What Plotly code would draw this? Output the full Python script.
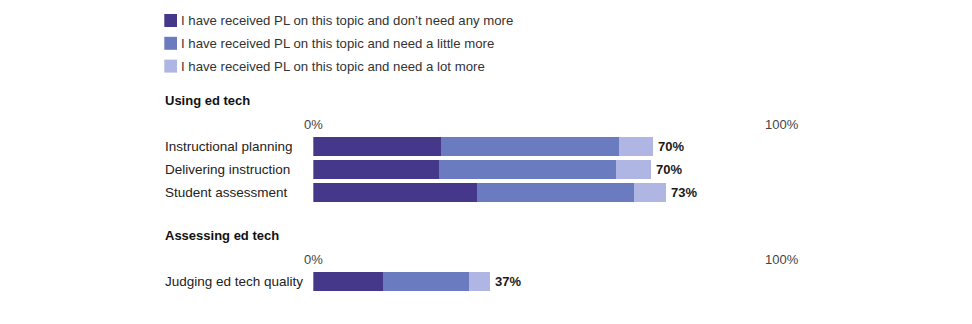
import plotly.graph_objects as go

# ---------------- data ----------------
series_names = [
    "I have received PL on this topic and don’t need any more",
    "I have received PL on this topic and need a little more",
    "I have received PL on this topic and need a lot more",
]
series_colors = ["#45388b", "#6b7bc0", "#b0b6e4"]

section_titles = ["Using ed tech", "Assessing ed tech"]
tick_values = [0, 100]
tick_labels = ["0%", "100%"]

using_cats = ["Instructional planning", "Delivering instruction", "Student assessment"]
using_dont = [26.4, 26.0, 33.8]
using_little = [36.8, 36.5, 32.6]
using_lot = [7.0, 7.4, 6.6]
using_totals = ["70%", "70%", "73%"]

assess_cats = ["Judging ed tech quality"]
assess_dont = [14.4]
assess_little = [17.8]
assess_lot = [4.3]
assess_totals = ["37%"]

# ---------------- layout helpers ----------------
W, H = 972, 324
FONT = "Liberation Sans, Arial, sans-serif"


def py(p):
    """pixel-from-top -> paper y"""
    return 1 - p / H


def px(p):
    return p / W


fig = go.Figure()

groups = [
    ("x", "y", using_cats, [using_dont, using_little, using_lot], using_totals),
    ("x2", "y2", assess_cats, [assess_dont, assess_little, assess_lot], assess_totals),
]

for xa, ya, cats, vals, totals in groups:
    for name, color, v in zip(series_names, series_colors, vals):
        fig.add_trace(go.Bar(
            y=cats, x=v, orientation="h", name=name,
            marker=dict(color=color, line=dict(width=0)),
            xaxis=xa, yaxis=ya, showlegend=False,
            hoverinfo="skip",
        ))
    # totals
    sums = [sum(t) for t in zip(*vals)]
    for c, s, lab in zip(cats, sums, totals):
        fig.add_annotation(x=s, y=c, xref=xa, yref=ya, text="<b>" + lab + "</b>",
                           showarrow=False, xanchor="left", xshift=3,
                           font=dict(family=FONT, size=13, color="#1a1a1a"))
        fig.add_annotation(x=px(165), y=c, xref="paper", yref=ya, text=c,
                           showarrow=False, xanchor="left", xshift=-2,
                           font=dict(family=FONT, size=13.5, color="#222222"))

# tick labels
for xa, ypix in (("x", 125), ("x2", 259.5)):
    for tv, tl in zip(tick_values, tick_labels):
        fig.add_annotation(x=tv, y=py(ypix), xref=xa, yref="paper", text=tl,
                           showarrow=False, xanchor="center" if tv == 0 else "right",
                           xshift=0 if tv == 0 else 4, yanchor="middle",
                           font=dict(family=FONT, size=13, color="#444444"))

# section titles
for title, ypix in zip(section_titles, (100.5, 235)):
    fig.add_annotation(x=px(165), y=py(ypix), xref="paper", yref="paper",
                       text="<b>" + title + "</b>", showarrow=False,
                       xanchor="left", yanchor="middle", xshift=-2,
                       font=dict(family=FONT, size=13, color="#111111"))

# legend (manual)
for i, (name, color) in enumerate(zip(series_names, series_colors)):
    top = 14 + i * 22.8
    fig.add_shape(type="rect", xref="paper", yref="paper",
                  x0=px(164.3), x1=px(177), y0=py(top), y1=py(top + 13),
                  fillcolor=color, line=dict(width=0))
    fig.add_annotation(x=px(181), y=py(top + 6.5), xref="paper", yref="paper",
                       text=name, showarrow=False, xanchor="left", yanchor="middle",
                       xshift=-2,
                       font=dict(family=FONT, size=13.2, color="#333333"))

xdom = [px(313.3), px(797)]
fig.update_layout(
    width=W, height=H,
    margin=dict(l=0, r=0, t=0, b=0),
    paper_bgcolor="white", plot_bgcolor="white",
    barmode="stack", bargap=0.185,
    showlegend=False,
    xaxis=dict(domain=xdom, range=[0, 100], visible=False, fixedrange=True),
    yaxis=dict(domain=[py(204.45), py(134.55)], range=[2.5, -0.5], visible=False,
               type="category", categoryorder="array", categoryarray=using_cats),
    xaxis2=dict(domain=xdom, range=[0, 100], visible=False, anchor="y2"),
    yaxis2=dict(domain=[py(293.15), py(269.85)], range=[0.5, -0.5], visible=False,
                type="category", anchor="x2", categoryorder="array",
                categoryarray=assess_cats),
)

fig.write_html("out.html")
